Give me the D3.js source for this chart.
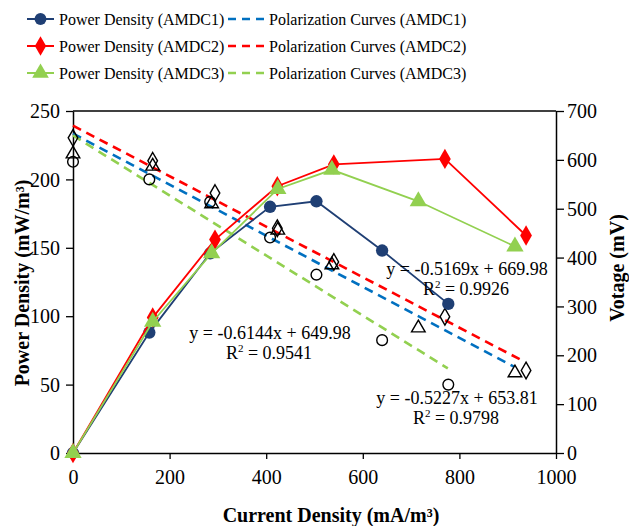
<!DOCTYPE html>
<html>
<head>
<meta charset="utf-8">
<script src="https://cdn.jsdelivr.net/npm/d3@7"></script>
<style>
  body { margin: 0; background: #fff; }
  svg { display: block; }
  svg text { font-family: "Liberation Serif", "Times New Roman", serif; fill: #000; }
</style>
</head>
<body>
<svg id="chart" width="629" height="526"></svg>
<script>
// current density (mA/m3) for each sample
const currentAMDC1 = [0, 158, 284, 408, 504, 640, 777];
const currentAMDC2 = [0, 165, 294, 423, 540, 770, 938];
const currentAMDC3 = [0, 165, 287, 424, 536, 715, 915];

// power density (mW/m3)
const powerAMDC1 = [0, 88, 146, 180, 184, 148, 109];
const powerAMDC2 = [0, 99, 156, 195, 211, 215, 159];
const powerAMDC3 = [0, 96, 146, 193, 207, 184, 151];

// measured voltage (mV)
const voltAMDC1 = [596, 560, 514, 441, 365, 231, 140];
const voltAMDC2 = [645, 598, 532, 460, 391, 279, 169];
const voltAMDC3 = [612, 587, 510, 456, 385, 256, 164];

// linear fits: [slope, intercept, x end, r2]
const fitAMDC1 = [-0.5227, 653.81, 913, 0.9798];
const fitAMDC2 = [-0.5169, 669.98, 935, 0.9926];
const fitAMDC3 = [-0.6144, 649.98, 776, 0.9541];

const xTicks = [0, 200, 400, 600, 800, 1000];
const yTicks = [0, 50, 100, 150, 200, 250];
const y2Ticks = [0, 100, 200, 300, 400, 500, 600, 700];

const navy = '#1f3f74', red = '#ff0000', green = '#92d050', blue = '#0070c0';
const serif = '"Liberation Serif", "Times New Roman", serif';

const svg = d3.select('#chart');
const margin = { top: 111, right: 73, bottom: 73, left: 73 };
const width = 629, height = 526;

const x = d3.scaleLinear().domain([0, 1000]).range([margin.left, width - margin.right]);
const y = d3.scaleLinear().domain([0, 250]).range([height - margin.bottom, margin.top]);
const y2 = d3.scaleLinear().domain([0, 700]).range([height - margin.bottom, margin.top]);

// top frame line
svg.append('line')
  .attr('x1', x(0)).attr('x2', x(1000))
  .attr('y1', y(250)).attr('y2', y(250))
  .attr('stroke', '#000').attr('stroke-width', 1.3);

function styleAxis(g) {
  g.attr('font-family', serif);
  g.select('.domain').attr('stroke', '#000').attr('stroke-width', 1.5);
  g.selectAll('.tick line').attr('stroke', '#000').attr('stroke-width', 1.3);
  g.selectAll('.tick text').attr('font-size', 20).attr('fill', '#000');
}

svg.append('g').attr('transform', `translate(0,${y(0)})`)
  .call(d3.axisBottom(x).tickValues(xTicks).tickFormat(d3.format('d'))
    .tickSize(6).tickSizeOuter(0).tickPadding(11))
  .call(styleAxis);

svg.append('g').attr('transform', `translate(${x(0)},0)`)
  .call(d3.axisLeft(y).tickValues(yTicks).tickSize(7).tickSizeOuter(0).tickPadding(6))
  .call(styleAxis)
  .selectAll('.tick text').attr('dy', '0.33em');

svg.append('g').attr('transform', `translate(${x(1000)},0)`)
  .call(d3.axisRight(y2).tickValues(y2Ticks).tickSize(8).tickSizeOuter(0).tickPadding(3))
  .call(styleAxis)
  .selectAll('.tick text').attr('dy', '0.33em');

// axis titles
svg.append('text')
  .attr('transform', `translate(29,283) rotate(-90)`)
  .attr('text-anchor', 'middle').attr('font-size', 20).attr('font-weight', 'bold')
  .text('Power Density (mW/m³)');

svg.append('text')
  .attr('x', 331).attr('y', 522)
  .attr('text-anchor', 'middle').attr('font-size', 20).attr('font-weight', 'bold')
  .text('Current Density (mA/m³)');

svg.append('text')
  .attr('transform', `translate(624,268) rotate(-90)`)
  .attr('text-anchor', 'middle').attr('font-size', 20).attr('font-weight', 'bold')
  .text('Votage (mV)');

// fitted polarization lines
const fits = [
  { fit: fitAMDC1, color: blue },
  { fit: fitAMDC2, color: red },
  { fit: fitAMDC3, color: green }
];
fits.forEach(f => {
  svg.append('line')
    .attr('x1', x(0)).attr('y1', y2(f.fit[1]))
    .attr('x2', x(f.fit[2])).attr('y2', y2(f.fit[0] * f.fit[2] + f.fit[1]))
    .attr('stroke', f.color).attr('stroke-width', 2.6)
    .attr('stroke-dasharray', '9,6');
});

// measured voltage points (open black markers)
const sym = {
  circle: d3.symbol().type(d3.symbolCircle).size(90),
  triangle: d3.symbol().type(d3.symbolTriangle).size(80),
  diamond: d3.symbol().type(d3.symbolDiamond).size(80)
};
const voltSets = [
  { xs: currentAMDC1, vs: voltAMDC1, shape: sym.circle },
  { xs: currentAMDC3, vs: voltAMDC3, shape: sym.triangle },
  { xs: currentAMDC2, vs: voltAMDC2, shape: sym.diamond }
];
voltSets.forEach(s => {
  svg.append('g').selectAll('path').data(s.xs).enter().append('path')
    .attr('d', s.shape)
    .attr('transform', (d, i) => `translate(${x(d)},${y2(s.vs[i])})`)
    .attr('fill', 'none').attr('stroke', '#000').attr('stroke-width', 1.4);
});

// power density curves
const line = d3.line().x(d => x(d[0])).y(d => y(d[1]));
const powerSets = [
  { xs: currentAMDC3, ps: powerAMDC3, color: green, shape: d3.symbol().type(d3.symbolTriangle).size(130) },
  { xs: currentAMDC1, ps: powerAMDC1, color: navy, shape: d3.symbol().type(d3.symbolCircle).size(120) },
  { xs: currentAMDC2, ps: powerAMDC2, color: red, shape: d3.symbol().type(d3.symbolDiamond).size(120) }
];
const order = [1, 2, 0];
order.forEach(k => {
  const s = powerSets[k];
  const pts = s.xs.map((d, i) => [d, s.ps[i]]);
  svg.append('path').datum(pts).attr('d', line)
    .attr('fill', 'none').attr('stroke', s.color).attr('stroke-width', 1.8);
  svg.append('g').selectAll('path').data(pts).enter().append('path')
    .attr('d', s.shape)
    .attr('transform', d => `translate(${x(d[0])},${y(d[1])})`)
    .attr('fill', s.color);
});

// equations
const eqs = [
  { fit: fitAMDC2, x: 467, y: 275 },
  { fit: fitAMDC3, x: 270, y: 339 },
  { fit: fitAMDC1, x: 457, y: 404 }
];
eqs.forEach(e => {
  const t = svg.append('text').attr('font-size', 18).attr('text-anchor', 'middle');
  t.append('tspan').attr('x', e.x).attr('y', e.y)
    .text(`y = ${e.fit[0].toFixed(4)}x + ${e.fit[1].toFixed(2)}`);
  const r = t.append('tspan').attr('x', e.x - 1).attr('y', e.y + 20);
  r.append('tspan').text('R');
  r.append('tspan').attr('font-size', 11).attr('dy', -7).text('2');
  r.append('tspan').attr('dy', 7).text(` = ${e.fit[3].toFixed(4)}`);
});

// legend
const legendRows = [
  { label: 'AMDC1', color: navy, shape: d3.symbol().type(d3.symbolCircle).size(110), dash: blue },
  { label: 'AMDC2', color: red, shape: d3.symbol().type(d3.symbolDiamond).size(110), dash: red },
  { label: 'AMDC3', color: green, shape: d3.symbol().type(d3.symbolTriangle).size(120), dash: green }
];
const legY = [19, 46, 73];
legendRows.forEach((r, i) => {
  const g = svg.append('g').attr('transform', `translate(0,${legY[i]})`);
  g.append('line').attr('x1', 27).attr('x2', 54).attr('stroke', r.color).attr('stroke-width', 2);
  g.append('path').attr('d', r.shape).attr('transform', 'translate(40.5,0)').attr('fill', r.color);
  g.append('text').attr('x', 59).attr('y', 6).attr('font-size', 16)
    .attr('font-family', serif)
    .text(`Power Density (${r.label})`);
  g.append('line').attr('x1', 228).attr('x2', 264).attr('stroke', r.dash)
    .attr('stroke-width', 2.6).attr('stroke-dasharray', '8,6');
  g.append('text').attr('x', 269).attr('y', 6).attr('font-size', 16)
    .attr('font-family', serif)
    .text(`Polarization Curves (${r.label})`);
});
</script>
</body>
</html>
